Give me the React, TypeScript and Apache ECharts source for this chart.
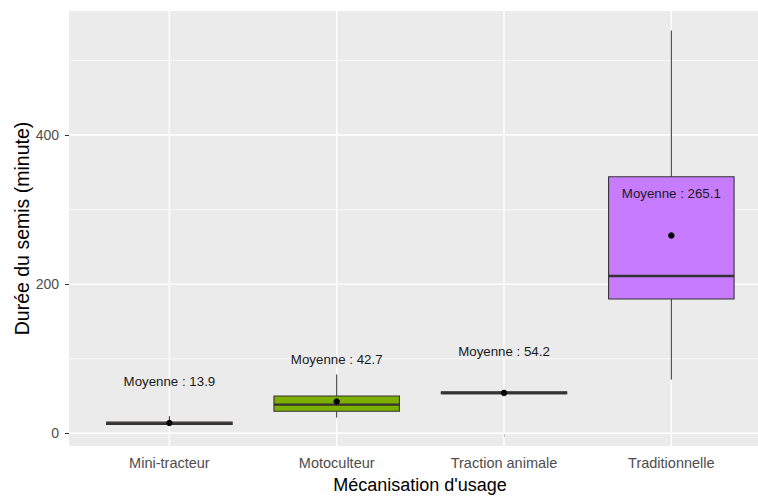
import React, { useEffect, useRef } from 'react';
import * as echarts from 'echarts';

const categories = ['Mini-tracteur', 'Motoculteur', 'Traction animale', 'Traditionnelle'];
const whiskerLow = [12, 21, 53, 72];
const q1 = [12, 29.5, 53, 180];
const median = [13, 38.5, 54, 211];
const q3 = [15, 50, 55.5, 344];
const whiskerHigh = [23, 79, 56, 540];
const means = [13.9, 42.7, 54.2, 265.1];
const fills = ['#F8766D', '#7CAE00', '#00BFC4', '#C77CFF'];
const yTicks = [0, 200, 400];
const yMinor = [100, 300, 500];
const labelOffset = 56;

const FONT = '"Liberation Sans", Arial, sans-serif';

export default function App() {
  const ref = useRef<HTMLDivElement>(null);
  useEffect(() => {
    if (!ref.current) return;
    const chart = echarts.init(ref.current, null, { renderer: 'svg' });
    const positions = categories.map((_, i) => i + 1);
    const xMin = 0.4;
    const xMax = 4.518;

    const hLines = [
      ...yMinor.map((v) => [xMin, v, 0]),
      ...yTicks.map((v) => [xMin, v, 1]),
    ];
    const vLines = positions.map((p) => [p, 0, 1]);

    const boxData = positions.map((p, i) => [
      p, whiskerLow[i], q1[i], median[i], q3[i], whiskerHigh[i], means[i], i,
    ]);

    const option: any = {
      animation: false,
      grid: {
        left: 69,
        top: 11,
        width: 689,
        height: 435,
        show: true,
        backgroundColor: '#EBEBEB',
        borderWidth: 0,
        containLabel: false,
        outerBoundsMode: 'none',
      },
      xAxis: {
        type: 'value',
        min: xMin,
        max: xMax,
        axisLine: { show: false },
        splitLine: { show: false },
        axisTick: {
          show: true,
          length: 4,
          customValues: positions,
          lineStyle: { color: '#333333', width: 1 },
        },
        axisLabel: {
          customValues: positions,
          formatter: (v: number) => categories[Math.round(v) - 1] ?? '',
          color: '#4D4D4D',
          fontSize: 14.5,
          fontFamily: FONT,
          margin: 9,
        },
      },
      yAxis: {
        type: 'value',
        min: -17,
        max: 566.2,
        axisLine: { show: false },
        splitLine: { show: false },
        axisTick: {
          show: true,
          length: 4,
          customValues: yTicks,
          lineStyle: { color: '#333333', width: 1 },
        },
        axisLabel: {
          customValues: yTicks,
          color: '#4D4D4D',
          fontSize: 14,
          fontFamily: FONT,
          margin: 10,
        },
        name: 'Durée du semis (minute)',
        nameLocation: 'middle',
        nameGap: 37,
        nameMoveOverlap: false,
        nameTextStyle: { color: '#000000', fontSize: 19.5, fontFamily: FONT },
      },
      graphic: [
        {
          type: 'text',
          x: 420,
          y: 485,
          style: {
            text: "Mécanisation d'usage",
            fill: '#000000',
            font: `18px ${FONT}`,
            align: 'center',
            verticalAlign: 'middle',
          },
        },
      ],
      series: [
        {
          type: 'custom',
          z: 1,
          data: hLines,
          renderItem: (params: any, api: any) => {
            const cs = params.coordSys;
            const y = api.coord([xMin, api.value(1)])[1];
            const major = api.value(2) === 1;
            return {
              type: 'line',
              shape: { x1: cs.x, y1: y, x2: cs.x + cs.width, y2: y },
              style: { stroke: '#FFFFFF', lineWidth: major ? 1.4 : 0.7 },
            };
          },
        },
        {
          type: 'custom',
          z: 1,
          data: vLines,
          renderItem: (params: any, api: any) => {
            const cs = params.coordSys;
            const x = api.coord([api.value(0), 0])[0];
            return {
              type: 'line',
              shape: { x1: x, y1: cs.y, x2: x, y2: cs.y + cs.height },
              style: { stroke: '#FFFFFF', lineWidth: 1.4 },
            };
          },
        },
        {
          type: 'custom',
          z: 2,
          data: boxData,
          renderItem: (params: any, api: any) => {
            const xc = api.value(0);
            const idx = api.value(7);
            const half = 0.375;
            const [cx, yLow] = api.coord([xc, api.value(1)]);
            const yQ1 = api.coord([xc, api.value(2)])[1];
            const yMed = api.coord([xc, api.value(3)])[1];
            const yQ3 = api.coord([xc, api.value(4)])[1];
            const yHigh = api.coord([xc, api.value(5)])[1];
            const [mx, yMean] = api.coord([xc, api.value(6)]);
            const xl = api.coord([xc - half, 0])[0];
            const xr = api.coord([xc + half, 0])[0];
            const yLab = api.coord([xc, api.value(6) + labelOffset])[1];
            const stroke = '#333333';
            return {
              type: 'group',
              children: [
                {
                  type: 'line',
                  shape: { x1: cx, y1: yHigh, x2: cx, y2: yQ3 },
                  style: { stroke, lineWidth: 1 },
                },
                {
                  type: 'line',
                  shape: { x1: cx, y1: yQ1, x2: cx, y2: yLow },
                  style: { stroke, lineWidth: 1 },
                },
                {
                  type: 'rect',
                  shape: { x: xl, y: yQ3, width: xr - xl, height: Math.max(yQ1 - yQ3, 0.5) },
                  style: { fill: fills[idx], stroke, lineWidth: 1.1 },
                },
                {
                  type: 'line',
                  shape: { x1: xl, y1: yMed, x2: xr, y2: yMed },
                  style: { stroke, lineWidth: 2.4 },
                },
                {
                  type: 'circle',
                  shape: { cx: mx, cy: yMean, r: 3.2 },
                  style: { fill: '#000000' },
                },
                {
                  type: 'text',
                  x: cx,
                  y: yLab,
                  style: {
                    text: 'Moyenne : ' + api.value(6).toFixed(1),
                    fill: '#1A1A1A',
                    font: `13.3px ${FONT}`,
                    align: 'center',
                    verticalAlign: 'middle',
                  },
                },
              ],
            };
          },
        },
      ],
    };
    chart.setOption(option);
    return () => chart.dispose();
  }, []);
  return <div ref={ref} style={{ width: 758, height: 497, position: 'absolute', left: 0, top: 0 }} />;
}
